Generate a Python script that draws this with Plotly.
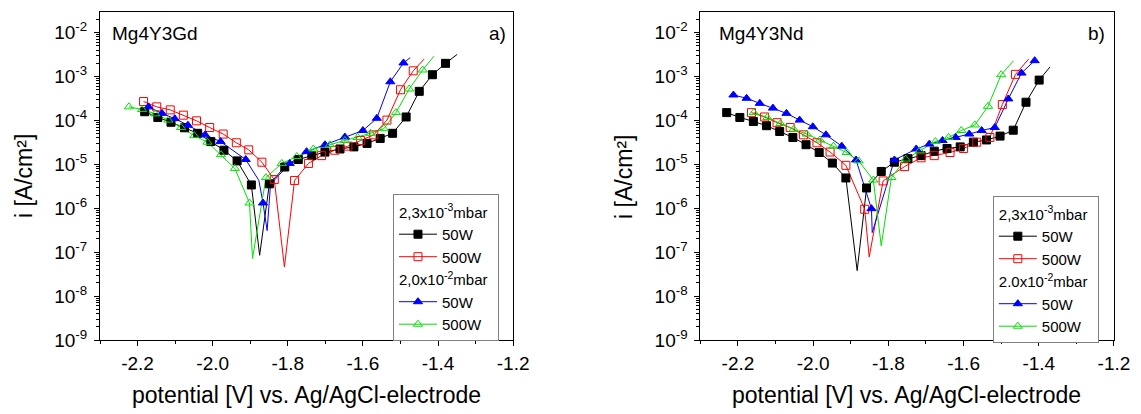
import plotly.graph_objects as go

# ---------------- data : panel a) Mg4Y3Gd ----------------
# series A: 2,3x10^-3 mbar, 50 W ; B: 2,3x10^-3 mbar, 500 W
# series C: 2,0x10^-2 mbar, 50 W ; D: 2,0x10^-2 mbar, 500 W
gd_a_v = [-2.181, -2.146, -2.111, -2.075, -2.040, -2.005, -1.970, -1.935, -1.897, -1.849, -1.808, -1.772,
          -1.736, -1.701, -1.661, -1.624, -1.589, -1.554, -1.521, -1.485, -1.450, -1.415, -1.380]
gd_a_i = [1.58e-4, 1.17e-4, 9.1e-5, 6.8e-5, 5.1e-5, 3.3e-5, 2.1e-5, 1.2e-5, 3.4e-6, 3.6e-6, 8.7e-6, 1.29e-5,
          1.58e-5, 1.9e-5, 2.24e-5, 2.5e-5, 3.0e-5, 3.9e-5, 5.1e-5, 1.2e-4, 4.6e-4, 1.1e-3, 2.0e-3]
gd_a_line_v = [-1.875, -1.349]
gd_a_line_i = [8.5e-8, 3.2e-3]

gd_b_v = [-2.184, -2.149, -2.113, -2.078, -2.043, -2.008, -1.972, -1.937, -1.904, -1.869, -1.836, -1.782,
          -1.745, -1.710, -1.675, -1.640, -1.606, -1.571, -1.536, -1.500, -1.466]
gd_b_i = [2.7e-4, 2.04e-4, 1.74e-4, 1.32e-4, 9.8e-5, 6.9e-5, 4.9e-5, 3.1e-5, 2.14e-5, 1.12e-5, 4.5e-6, 4.3e-6,
          1.05e-5, 1.58e-5, 2.1e-5, 2.6e-5, 3.5e-5, 4.7e-5, 1.02e-4, 5.0e-4, 1.35e-3]
gd_b_line_v = [-1.809, -1.437]
gd_b_line_i = [4.6e-8, 2.5e-3]

gd_c_v = [-2.171, -2.135, -2.101, -2.066, -2.020, -1.979, -1.912, -1.866, -1.795, -1.750, -1.701, -1.648,
          -1.600, -1.563, -1.527, -1.492]
gd_c_i = [2.04e-4, 1.45e-4, 1.1e-4, 7.8e-5, 4.7e-5, 3.3e-5, 1.29e-5, 1.32e-6, 1.05e-5, 1.95e-5, 2.8e-5, 4.2e-5,
          5.9e-5, 1.12e-4, 7.6e-4, 2.04e-3]
gd_c_line_v = [-1.877, -1.855, -1.846, -1.474]
gd_c_line_i = [4.3e-6, 3.1e-7, 3.5e-6, 2.7e-3]

gd_d_v = [-2.223, -2.188, -2.153, -2.118, -2.084, -2.049, -2.014, -1.978, -1.941, -1.902, -1.858, -1.816,
          -1.776, -1.732, -1.688, -1.648, -1.614, -1.580, -1.544, -1.512, -1.477, -1.441]
gd_d_i = [2.04e-4, 1.78e-4, 1.41e-4, 1.02e-4, 6.9e-5, 4.5e-5, 3.2e-5, 1.66e-5, 8.1e-6, 1.32e-6, 5.0e-6, 1.05e-5,
          1.51e-5, 2.24e-5, 2.8e-5, 3.5e-5, 4.1e-5, 5.1e-5, 6.5e-5, 1.51e-4, 5.2e-4, 1.41e-3]
gd_d_line_v = [-1.894, -1.411]
gd_d_line_i = [7.2e-8, 2.9e-3]

# ---------------- data : panel b) Mg4Y3Nd ----------------
nd_a_v = [-2.230, -2.195, -2.159, -2.124, -2.089, -2.054, -2.019, -1.984, -1.949, -1.913, -1.858, -1.819,
          -1.784, -1.748, -1.713, -1.678, -1.644, -1.609, -1.574, -1.539, -1.503, -1.468, -1.434, -1.399]
nd_a_i = [1.51e-4, 1.17e-4, 9.5e-5, 7.6e-5, 5.6e-5, 4.1e-5, 2.8e-5, 1.86e-5, 1.07e-5, 4.9e-6, 2.9e-6, 6.9e-6,
          1.12e-5, 1.35e-5, 1.58e-5, 2.0e-5, 2.3e-5, 2.5e-5, 3.2e-5, 3.6e-5, 4.4e-5, 6.0e-5, 2.6e-4, 8.3e-4]
nd_a_line_v = [-1.883, -1.370]
nd_a_line_i = [3.8e-8, 1.66e-3]

nd_b_v = [-2.164, -2.129, -2.096, -2.061, -2.026, -1.990, -1.955, -1.913, -1.863, -1.814, -1.757, -1.713,
          -1.678, -1.636, -1.600, -1.565, -1.530, -1.497, -1.462]
nd_b_i = [1.51e-4, 1.2e-4, 8.9e-5, 6.9e-5, 4.7e-5, 3.1e-5, 1.91e-5, 9.5e-6, 9.5e-7, 4.2e-6, 8.9e-6, 1.41e-5,
          1.58e-5, 1.86e-5, 2.3e-5, 3.2e-5, 4.1e-5, 2.3e-4, 1.12e-3]
nd_b_line_v = [-1.851, -1.427]
nd_b_line_i = [7.8e-8, 2.5e-3]

nd_c_v = [-2.212, -2.177, -2.142, -2.107, -2.071, -2.036, -2.001, -1.966, -1.924, -1.886, -1.845, -1.784,
          -1.726, -1.691, -1.656, -1.621, -1.585, -1.552, -1.517, -1.481, -1.446, -1.411]
nd_c_i = [3.8e-4, 3.2e-4, 2.45e-4, 1.91e-4, 1.45e-4, 1.02e-4, 7.2e-5, 4.7e-5, 2.6e-5, 1.26e-5, 9.8e-7, 1.26e-5,
          2.24e-5, 2.9e-5, 3.5e-5, 4.1e-5, 4.9e-5, 5.9e-5, 6.9e-5, 3.1e-4, 1.2e-3, 2.3e-3]
nd_c_line_v = [-1.843]
nd_c_line_i = [2.8e-7]

nd_d_v = [-2.158, -2.122, -2.087, -2.052, -2.017, -1.982, -1.946, -1.911, -1.879, -1.840, -1.792, -1.754,
          -1.717, -1.675, -1.640, -1.606, -1.570, -1.535, -1.500]
nd_d_i = [1.51e-4, 1.17e-4, 8.5e-5, 6.3e-5, 4.9e-5, 3.6e-5, 2.6e-5, 1.86e-5, 1.2e-5, 4.4e-6, 5.0e-6, 1.32e-5,
          2.04e-5, 3.3e-5, 4.1e-5, 5.9e-5, 7.9e-5, 2.1e-4, 1.1e-3]
nd_d_line_v = [-1.819, -1.467]
nd_d_line_i = [1.4e-7, 2.3e-3]

# ---------------- labels / ticks ----------------
x_tick_vals = [-2.2, -2.0, -1.8, -1.6, -1.4, -1.2]
x_tick_text = ["-2.2", "-2.0", "-1.8", "-1.6", "-1.4", "-1.2"]
y_exponents = [-9, -8, -7, -6, -5, -4, -3, -2]
legend_items = ["50W", "500W"]
panel_a_groups = ["2,3x10<sup>-3</sup>mbar", "2,0x10<sup>-2</sup>mbar"]
panel_b_groups = ["2,3x10<sup>-3</sup>mbar", "2.0x10<sup>-2</sup>mbar"]

FONT = "Liberation Sans, Arial, sans-serif"

styles = [
    dict(color="#000000", symbol="square"),
    dict(color="#ff0000", symbol="square-open"),
    dict(color="#0000ff", symbol="triangle-up"),
    dict(color="#00e000", symbol="triangle-up-open"),
]


def merged(mv, mi, lv, li):
    pts = sorted(zip(list(mv) + list(lv), list(mi) + list(li)), key=lambda p: p[0])
    return [p[0] for p in pts], [p[1] for p in pts]


panels = [
    dict(xa="x", ya="y", legend="legend", groups=panel_a_groups,
         series=[(gd_a_v, gd_a_i, gd_a_line_v, gd_a_line_i),
                 (gd_b_v, gd_b_i, gd_b_line_v, gd_b_line_i),
                 (gd_c_v, gd_c_i, gd_c_line_v, gd_c_line_i),
                 (gd_d_v, gd_d_i, gd_d_line_v, gd_d_line_i)]),
    dict(xa="x2", ya="y2", legend="legend2", groups=panel_b_groups,
         series=[(nd_a_v, nd_a_i, nd_a_line_v, nd_a_line_i),
                 (nd_b_v, nd_b_i, nd_b_line_v, nd_b_line_i),
                 (nd_c_v, nd_c_i, nd_c_line_v, nd_c_line_i),
                 (nd_d_v, nd_d_i, nd_d_line_v, nd_d_line_i)]),
]

fig = go.Figure()

for p in panels:
    for k, (mv, mi, lv, li) in enumerate(p["series"]):
        st = styles[k]
        xs, ys = merged(mv, mi, lv, li)
        fig.add_trace(go.Scatter(x=xs, y=ys, mode="lines", xaxis=p["xa"], yaxis=p["ya"],
                                 line=dict(color=st["color"], width=1), showlegend=False,
                                 hoverinfo="skip"))
    for k, (mv, mi, lv, li) in enumerate(p["series"]):
        st = styles[k]
        fig.add_trace(go.Scatter(x=mv, y=mi, mode="markers", xaxis=p["xa"], yaxis=p["ya"],
                                 marker=dict(symbol=st["symbol"], size=8, color=st["color"],
                                             line=dict(color=st["color"], width=1)),
                                 showlegend=False))
    for k in range(4):
        st = styles[k]
        g = k // 2
        fig.add_trace(go.Scatter(x=[None], y=[None], mode="lines+markers", xaxis=p["xa"], yaxis=p["ya"],
                                 name=legend_items[k % 2], legend=p["legend"],
                                 legendgroup=p["legend"] + "g" + str(g),
                                 legendgrouptitle=dict(text=p["groups"][g],
                                                       font=dict(size=15, family=FONT, color="black")),
                                 line=dict(color=st["color"], width=1),
                                 marker=dict(symbol=st["symbol"], size=8, color=st["color"],
                                             line=dict(color=st["color"], width=1))))

minor_log_vals = [m * 10.0 ** e for e in range(-9, -1) for m in range(2, 10)]


def xaxis_cfg(domain, anchor):
    return dict(domain=domain, anchor=anchor, range=[-2.3, -1.2], tickmode="array",
                tickvals=x_tick_vals, ticktext=x_tick_text, ticks="outside", ticklen=5,
                tickwidth=1, tickcolor="black", showline=True, linecolor="black", linewidth=1,
                mirror=True, showgrid=False, zeroline=False,
                tickfont=dict(size=19, family=FONT, color="black"), ticklabelstandoff=1,
                minor=dict(dtick=0.1, tick0=-2.3, ticks="outside", ticklen=3, tickcolor="black",
                           showgrid=False))


def yaxis_cfg(anchor):
    return dict(domain=[0, 1], anchor=anchor, type="log", range=[-9, -1.53], tickmode="array",
                tickvals=[10.0 ** e for e in y_exponents],
                ticktext=["10<sup>%d</sup>" % e for e in y_exponents],
                ticks="outside", ticklen=5, tickwidth=1, tickcolor="black", showline=True,
                linecolor="black", linewidth=1, mirror=True, showgrid=False, zeroline=False,
                tickfont=dict(size=19, family=FONT, color="black"), ticklabelstandoff=3,
                minor=dict(tickvals=minor_log_vals, ticks="outside", ticklen=3, tickcolor="black",
                           showgrid=False))


W, H = 1141, 414
ML, MR, MT, MB = 100, 20, 11, 74
PW = W - ML - MR
PH = H - MT - MB


def px_x(px):
    return (px - ML) / PW


def px_y(py):
    return (H - MB - py) / PH


legend_common = dict(bgcolor="white", bordercolor="#808080", borderwidth=1,
                     font=dict(size=15, family=FONT, color="black"), traceorder="grouped",
                     tracegroupgap=0, xanchor="left", yanchor="top", itemclick=False,
                     itemwidth=38)

fig.update_layout(
    width=W, height=H, margin=dict(l=ML, r=MR, t=MT, b=MB),
    paper_bgcolor="white", plot_bgcolor="white",
    font=dict(family=FONT, color="black"),
    xaxis=xaxis_cfg([0, px_x(516)], "y"),
    yaxis=yaxis_cfg("x"),
    xaxis2=xaxis_cfg([px_x(704.5), 1.0], "y2"),
    yaxis2=yaxis_cfg("x2"),
    legend=dict(x=px_x(395), y=px_y(194), **legend_common),
    legend2=dict(x=px_x(999), y=px_y(196), **legend_common),
)

title_font = dict(size=23, family=FONT, color="black")
for xc, yaxis_x in [(308, 24), (912.5, 628)]:
    fig.add_annotation(text="potential [V] vs. Ag/AgCl-electrode", xref="paper", yref="paper",
                       x=px_x(xc), y=px_y(395), showarrow=False, font=title_font,
                       xanchor="center", yanchor="middle")
    fig.add_annotation(text="i [A/cm²]", xref="paper", yref="paper", x=px_x(yaxis_x), y=px_y(176),
                       showarrow=False, font=title_font, textangle=-90,
                       xanchor="center", yanchor="middle")

label_font = dict(size=19, family=FONT, color="black")
fig.add_annotation(text="Mg4Y3Gd", xref="x domain", yref="y domain", x=0.025, y=0.935,
                   showarrow=False, font=label_font, xanchor="left", yanchor="middle")
fig.add_annotation(text="a)", xref="x domain", yref="y domain", x=0.988, y=0.935,
                   showarrow=False, font=label_font, xanchor="right", yanchor="middle")
fig.add_annotation(text="Mg4Y3Nd", xref="x2 domain", yref="y2 domain", x=0.04, y=0.935,
                   showarrow=False, font=label_font, xanchor="left", yanchor="middle")
fig.add_annotation(text="b)", xref="x2 domain", yref="y2 domain", x=0.982, y=0.935,
                   showarrow=False, font=label_font, xanchor="right", yanchor="middle")

fig.write_html("out.html", config={"displayModeBar": False},
               post_script="document.body.style.margin='0px';document.body.style.padding='0px';"
                           "document.body.style.overflow='hidden';")
